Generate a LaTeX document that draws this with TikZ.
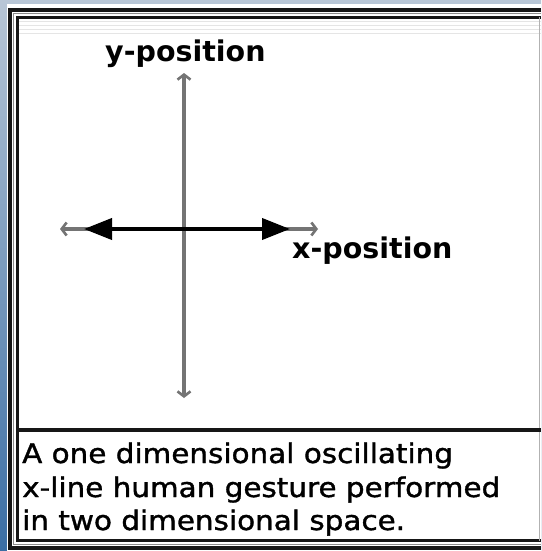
\documentclass[tikz,border=0pt]{standalone}
\usepackage{fontspec}
\setmainfont{DejaVu Sans}
\newfontfamily\capfont[FakeStretch=1.09, FakeBold=1.3]{DejaVu Sans}
\usetikzlibrary{arrows.meta}
\definecolor{bgtop}{HTML}{B8C6D6}
\definecolor{bgbot}{HTML}{3A6EA4}
\definecolor{axisgray}{HTML}{747474}
\definecolor{framek}{HTML}{161616}
\tikzset{
  frameline/.style={draw=framek, line width=3.2pt},
  thinframe/.style={draw=black!45, line width=1.2pt},
  grayaxis/.style={draw=axisgray, line width=3.6pt, {Straight Barb[length=5pt,width=13pt,line width=2.6pt]}-{Straight Barb[length=5pt,width=13pt,line width=2.6pt]}},
  blackaxis/.style={draw=black, line width=4pt, {Triangle[length=28pt,width=21pt]}-{Triangle[length=28pt,width=21pt]}},
  axislabel/.style={font=\fontsize{28.5}{30}\selectfont\bfseries, inner sep=0pt, anchor=base west},
  caption/.style={font=\capfont\fontsize{27}{33}\selectfont, inner sep=0pt, anchor=base west}
}
\begin{document}
\begin{tikzpicture}[x=1pt,y=-1pt]
\useasboundingbox (0,0) rectangle (541,551);
% background
\shade[top color=bgtop, bottom color=bgbot] (0,0) rectangle (541,551);
\fill[white] (7,4) rectangle (541,551);
% faint stripes near top
\foreach \yy in {22,26,30,34} {\draw[black!10, line width=1pt] (19,\yy) -- (541,\yy);}
% frame
\draw[frameline] (541,10) -- (10,10) -- (10,548) -- (541,548);
\draw[thinframe] (541,13.8) -- (13.8,13.8) -- (13.8,544.5) -- (541,544.5);
\draw[frameline] (541,17.5) -- (17.5,17.5) -- (17.5,540.5) -- (541,540.5);
\draw[black!30, line width=1pt] (539.5,17.5) -- (539.5,540.5);
% divider
\draw[frameline] (17.5,430) -- (541,430);
% axes
\coordinate (ytop) at (184,73);
\coordinate (ybot) at (184,398);
\coordinate (xl) at (60,229);
\coordinate (xr) at (318,229);
\coordinate (bl) at (84,229);
\coordinate (br) at (290,229);
\draw[grayaxis] (ytop) -- (ybot);
\draw[grayaxis] (xl) -- (xr);
\draw[blackaxis] (bl) -- (br);
% labels
\node[axislabel] (ylab) at (105,62) {y-position};
\node[axislabel] (xlab) at (292,258) {x-position};
% caption
\node[caption] (c1) at (22,463) {A one dimensional oscillating};
\node[caption] (c2) at (22,497) {x-line human gesture performed};
\node[caption] (c3) at (22,530) {in two dimensional space.};
\end{tikzpicture}
\end{document}
